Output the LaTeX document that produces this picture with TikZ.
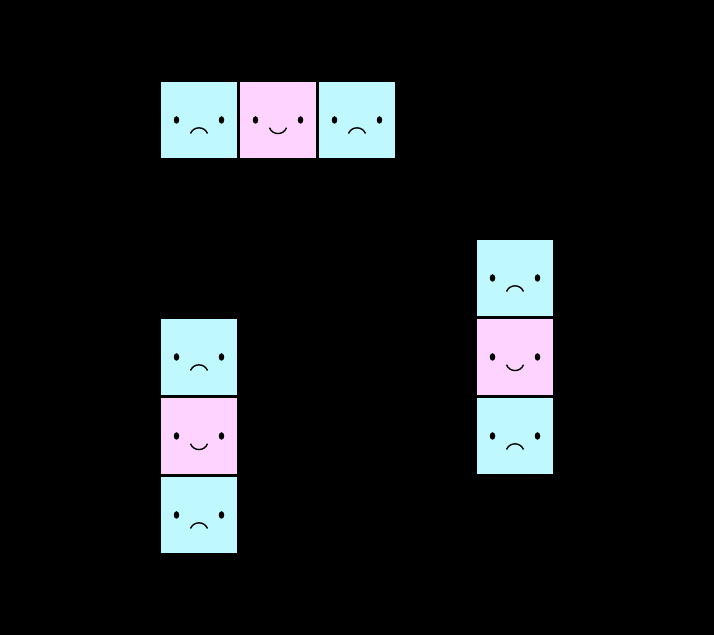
\documentclass[tikz,border=0pt]{standalone}
\usepackage{xcolor}
\usepackage{tikz}
\usetikzlibrary{positioning}

\definecolor{sadblue}{HTML}{BFF9FF}
\definecolor{happypink}{HTML}{FFD3FF}

\begin{document}
\begin{tikzpicture}[
    node distance=0.06cm,
    sadcell/.style={rectangle, fill=sadblue, minimum size=1.52cm, inner sep=0pt, outer sep=0pt},
    happycell/.style={rectangle, fill=happypink, minimum size=1.52cm, inner sep=0pt, outer sep=0pt},
    eyes/.pic={
        \fill (-0.45,0) ellipse (0.055 and 0.075);
        \fill (0.45,0) ellipse (0.055 and 0.075);
    },
    sadface/.pic={
        \pic {eyes};
        \draw[line width=0.8pt] (-0.17,-0.27) .. controls (-0.11,-0.12) and (0.11,-0.12) .. (0.17,-0.27);
    },
    happyface/.pic={
        \pic {eyes};
        \draw[line width=0.8pt] (-0.17,-0.155) .. controls (-0.11,-0.31) and (0.11,-0.31) .. (0.17,-0.155);
    }
]

\fill[black] (0,0) rectangle (14.28,12.7);
\useasboundingbox (0,0) rectangle (14.28,12.7);

% top row
\node[sadcell] (topa) at (3.98,10.3) {};
\node[happycell, right=of topa] (topb) {};
\node[sadcell, right=of topb] (topc) {};

% right column
\node[sadcell] (righta) at (10.3,7.14) {};
\node[happycell, below=of righta] (rightb) {};
\node[sadcell, below=of rightb] (rightc) {};

% left column
\node[sadcell] (lefta) at (3.98,5.56) {};
\node[happycell, below=of lefta] (leftb) {};
\node[sadcell, below=of leftb] (leftc) {};

\foreach \cell in {topa,topc,righta,rightc,lefta,leftc}
    \pic at (\cell) {sadface};
\foreach \cell in {topb,rightb,leftb}
    \pic at (\cell) {happyface};

\end{tikzpicture}
\end{document}
